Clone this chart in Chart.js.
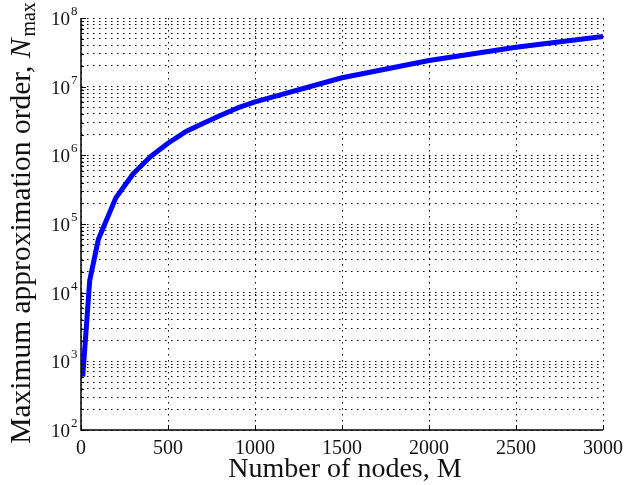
<!DOCTYPE html>
<html>
<head>
<meta charset="utf-8">
<script src="https://cdn.jsdelivr.net/npm/chart.js@4"></script>
<style>
  html, body { margin: 0; padding: 0; background: #fff; }
  #wrap { width: 626px; height: 485px; position: relative; }
</style>
</head>
<body>
<div id="wrap"><canvas id="c" width="626" height="485"></canvas></div>
<script>
// ---- data ----
const nodes = [10, 50, 100, 200, 300, 400, 500, 600, 700, 800, 900, 1000, 1500, 2000, 2500, 3000];
const maxOrder = [600, 1.5e4, 6e4, 2.4e5, 5.4e5, 9.6e5, 1.5e6, 2.2e6, 2.9e6, 3.8e6, 4.9e6, 6.0e6, 1.35e7, 2.4e7, 3.75e7, 5.4e7];
const xTicks = [0, 500, 1000, 1500, 2000, 2500, 3000];
const yDecadeExponents = [2, 3, 4, 5, 6, 7, 8];
const xTitle = 'Number of nodes, M';
const yTitleMain = 'Maximum approximation order, ';
const yTitleSym = 'N';
const yTitleSub = 'max';

const points = nodes.map((m, i) => ({ x: m, y: maxOrder[i] }));

// all y grid values: decades and 2..9 multiples
const yGridValues = [];
yDecadeExponents.forEach((e, i) => {
  for (let k = 1; k <= 9; k++) {
    if (i === yDecadeExponents.length - 1 && k > 1) break;
    yGridValues.push(k * Math.pow(10, e));
  }
});

const serif = '"Liberation Serif", "Times New Roman", serif';

const decorPlugin = {
  id: 'decor',
  afterDraw(chart) {
    const ctx = chart.ctx;
    const xs = chart.scales.x, ys = chart.scales.y;
    const ca = chart.chartArea;
    ctx.save();
    // axes spines
    ctx.strokeStyle = '#000';
    ctx.lineWidth = 1.5;
    ctx.setLineDash([]);
    ctx.beginPath();
    ctx.moveTo(ca.left, ca.top);
    ctx.lineTo(ca.left, ca.bottom);
    ctx.lineTo(ca.right, ca.bottom);
    ctx.stroke();
    // inward ticks
    ctx.lineWidth = 1;
    ctx.beginPath();
    yGridValues.forEach(v => {
      const py = Math.round(ys.getPixelForValue(v)) + 0.5;
      const isMajor = Math.abs(Math.log10(v) - Math.round(Math.log10(v))) < 1e-9;
      ctx.moveTo(ca.left, py);
      ctx.lineTo(ca.left + (isMajor ? 5 : 3), py);
    });
    xTicks.forEach(v => {
      const px = Math.round(xs.getPixelForValue(v)) + 0.5;
      ctx.moveTo(px, ca.bottom);
      ctx.lineTo(px, ca.bottom - 5);
    });
    ctx.stroke();

    ctx.fillStyle = '#111';
    // y tick labels 10^n
    yDecadeExponents.forEach(e => {
      const py = ys.getPixelForValue(Math.pow(10, e));
      ctx.font = '19px ' + serif;
      ctx.textAlign = 'right';
      ctx.textBaseline = 'alphabetic';
      ctx.fillText('10', 70, py + 7);
      ctx.font = '13px ' + serif;
      ctx.textAlign = 'left';
      ctx.fillText(String(e), 71, py - 3);
    });
    // x tick labels
    ctx.font = '20px ' + serif;
    ctx.textAlign = 'center';
    ctx.textBaseline = 'alphabetic';
    xTicks.forEach(v => {
      ctx.fillText(String(v), xs.getPixelForValue(v), 454);
    });
    // x title
    ctx.font = '28px ' + serif;
    ctx.fillText(xTitle, (ca.left + ca.right) / 2 + 3, 477);

    // y title (rotated)
    ctx.translate(30, 223);
    ctx.rotate(-Math.PI / 2);
    ctx.font = '29.5px ' + serif;
    const w1 = ctx.measureText(yTitleMain).width;
    ctx.font = 'italic 29.5px ' + serif;
    const w2 = ctx.measureText(yTitleSym).width;
    ctx.font = '20px ' + serif;
    const w3 = ctx.measureText(yTitleSub).width;
    let x0 = -(w1 + w2 + w3 + 2) / 2;
    ctx.textAlign = 'left';
    ctx.font = '29.5px ' + serif;
    ctx.fillText(yTitleMain, x0, 0);
    ctx.font = 'italic 29.5px ' + serif;
    ctx.fillText(yTitleSym, x0 + w1, 0);
    ctx.font = '20px ' + serif;
    ctx.fillText(yTitleSub, x0 + w1 + w2 + 2, 5);
    ctx.restore();
  }
};

new Chart(document.getElementById('c'), {
  type: 'line',
  data: {
    datasets: [{
      data: points,
      borderColor: '#0000ff',
      borderWidth: 5,
      pointRadius: 0,
      tension: 0,
      fill: false,
      borderJoinStyle: 'round',
      borderCapStyle: 'butt'
    }]
  },
  options: {
    responsive: false,
    animation: false,
    devicePixelRatio: 1,
    layout: { padding: { top: 18, right: 23, left: 0, bottom: 0 } },
    plugins: { legend: { display: false }, tooltip: { enabled: false } },
    scales: {
      x: {
        type: 'linear',
        min: 0, max: 3000,
        afterBuildTicks: s => { s.ticks = xTicks.map(v => ({ value: v })); },
        afterFit: s => { s.height = 55; },
        ticks: { display: false },
        border: { display: false, dash: [1.5, 4.5] },
        grid: {
          color: '#000',
          lineWidth: 1,
          drawTicks: false
        },
        title: { display: false }
      },
      y: {
        type: 'logarithmic',
        min: 100, max: 1e8,
        afterBuildTicks: s => { s.ticks = yGridValues.map(v => ({ value: v })); },
        afterFit: s => { s.width = 81; },
        ticks: { display: false },
        border: { display: false, dash: [1.5, 4.5] },
        grid: {
          color: '#000',
          lineWidth: 1,
          drawTicks: false
        },
        title: { display: false }
      }
    }
  },
  plugins: [decorPlugin]
});
</script>
</body>
</html>
